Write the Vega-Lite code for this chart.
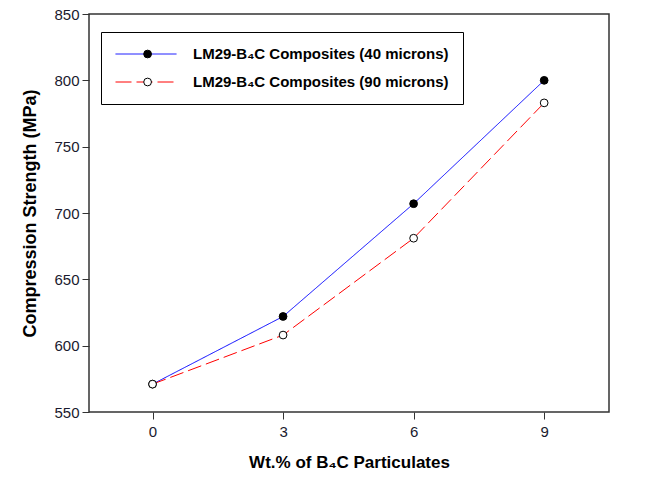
{
  "$schema": "https://vega.github.io/schema/vega-lite/v6.json",
  "width": 520,
  "height": 398,
  "autosize": {"type": "none"},
  "padding": {"left": 89, "top": 14, "right": 50, "bottom": 67},
  "background": "white",
  "config": {
    "font": "Liberation Sans",
    "view": {"stroke": "#333333", "strokeWidth": 1.5},
    "axis": {"grid": false, "domain": false, "tickColor": "#333333", "tickSize": 7, "labelFont": "Liberation Sans", "labelFontSize": 15, "labelColor": "#1a1a2e", "titleFont": "Liberation Sans", "titleFontWeight": "bold", "titleColor": "black"}
  },
  "data": {
    "values": [
      {"series": "LM29-B₄C Composites (40 microns)", "marker": "LM29-B₄C Composites (40 microns)", "wt": 0, "strength": 571},
      {"series": "LM29-B₄C Composites (40 microns)", "marker": "LM29-B₄C Composites (40 microns)", "wt": 3, "strength": 622},
      {"series": "LM29-B₄C Composites (40 microns)", "marker": "LM29-B₄C Composites (40 microns)", "wt": 6, "strength": 707},
      {"series": "LM29-B₄C Composites (40 microns)", "marker": "LM29-B₄C Composites (40 microns)", "wt": 9, "strength": 800},
      {"series": "LM29-B₄C Composites (90 microns)", "marker": "LM29-B₄C Composites (90 microns)", "wt": 0, "strength": 571},
      {"series": "LM29-B₄C Composites (90 microns)", "marker": "LM29-B₄C Composites (90 microns)", "wt": 3, "strength": 608},
      {"series": "LM29-B₄C Composites (90 microns)", "marker": "LM29-B₄C Composites (90 microns)", "wt": 6, "strength": 681},
      {"series": "LM29-B₄C Composites (90 microns)", "marker": "LM29-B₄C Composites (90 microns)", "wt": 9, "strength": 783}
    ]
  },
  "encoding": {
    "x": {
      "field": "wt", "type": "quantitative",
      "scale": {"domain": [-1.46, 10.49], "nice": false, "zero": false},
      "axis": {"values": [0, 3, 6, 9], "labelPadding": 5, "title": "Wt.% of B₄C Particulates", "titleFontSize": 17, "titlePadding": 15}
    },
    "y": {
      "field": "strength", "type": "quantitative",
      "scale": {"domain": [550, 850], "nice": false, "zero": false},
      "axis": {"values": [550, 600, 650, 700, 750, 800, 850], "labelPadding": 3, "title": "Compression Strength (MPa)", "titleFontSize": 18, "titlePadding": 14}
    }
  },
  "layer": [
    {
      "mark": {"type": "line", "strokeWidth": 1},
      "encoding": {
        "color": {
          "field": "series", "type": "nominal",
          "scale": {"range": ["#0000ff", "#ff0000"]},
          "legend": {
            "orient": "none", "legendX": 12, "legendY": 18, "title": null,
            "strokeColor": "black", "fillColor": "white", "padding": 14,
            "symbolType": "stroke", "symbolSize": 3721, "symbolStrokeWidth": 1,
            "clipHeight": 16, "rowPadding": 12,
            "labelFontSize": 15, "labelFontWeight": "bold", "labelColor": "black", "labelOffset": 16, "labelLimit": 400,
            "labelExpr": "datum.label + '\u00a0\u00a0'",
            "encode": {"symbols": {"update": {"strokeDash": {"signal": "indexof(datum.value, '90 microns') >= 0 ? [16, 5] : [1, 0]"}}}}
          }
        },
        "strokeDash": {
          "condition": {"test": "indexof(datum.series, '90 microns') >= 0", "value": [14, 5]},
          "value": [1, 0]
        }
      }
    },
    {
      "mark": {"type": "point", "filled": true, "shape": "circle", "stroke": "black", "strokeWidth": 1, "size": 60, "opacity": 1},
      "encoding": {
        "fill": {
          "field": "marker", "type": "nominal",
          "scale": {"range": ["black", "white"]},
          "legend": {"orient": "none", "legendX": 37.1, "legendY": 18, "title": null, "padding": 14, "symbolType": "circle", "symbolSize": 60, "symbolStrokeColor": "black", "symbolStrokeWidth": 1, "symbolOpacity": 1, "clipHeight": 16, "rowPadding": 12, "labelFontSize": 15, "labelExpr": "''", "labelLimit": 400}
        }
      }
    }
  ]
}
